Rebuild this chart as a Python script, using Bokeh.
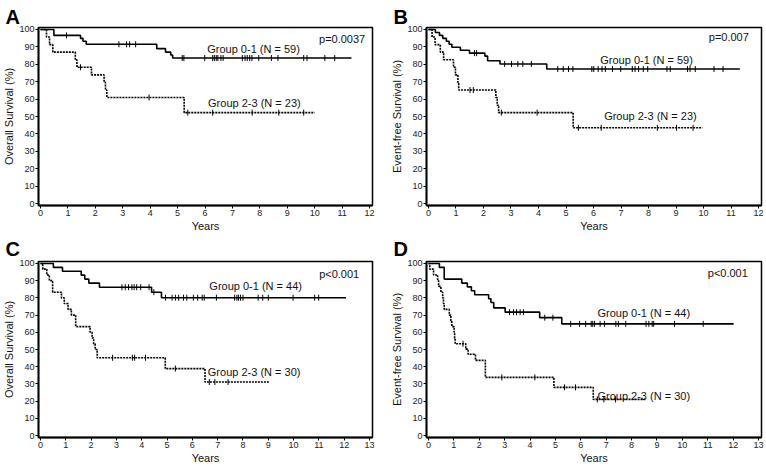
import numpy as np
from bokeh.plotting import figure
from bokeh.layouts import row, column
from bokeh.models import FixedTicker, Range1d, Label, Title
from bokeh.embed import file_html
from bokeh.resources import INLINE

FONT = "Liberation Sans"

# ---------------- data (years, survival %) ----------------
# Panel A - overall survival, cohort 1
A1_t = [0.49, 1.46, 1.55, 1.67, 4.24, 4.56, 4.75, 4.82]
A1_s = [96.6, 94.9, 93.2, 91.5, 89.0, 87.0, 85.3, 83.6]
A1_end = 11.34
A1_c = [0.95, 2.86, 3.14, 3.25, 3.47, 5.17, 5.23, 5.99, 6.28, 6.34, 6.41, 6.47, 6.58, 6.66,
        7.36, 7.46, 7.54, 7.63, 7.71, 7.96, 8.42, 8.66, 9.60, 9.72, 10.37, 10.73]
A2_t = [0.22, 0.33, 0.45, 1.27, 1.33, 1.86, 2.32, 2.37, 2.42, 5.24]
A2_s = [95.7, 91.3, 87.0, 82.6, 78.3, 73.9, 69.6, 65.2, 60.9, 52.2]
A2_end = 10.0
A2_c = [1.46, 3.96, 5.37, 6.28, 7.72, 8.69, 9.60]

# Panel B - event-free survival, cohort 1
B1_t = [0.25, 0.40, 0.52, 0.65, 0.75, 0.85, 1.16, 1.49, 2.05, 2.15, 2.60, 4.30]
B1_s = [98.3, 96.6, 94.9, 93.2, 91.5, 89.8, 88.1, 86.4, 84.7, 82.0, 80.2, 77.3]
B1_end = 11.32
B1_c = [1.67, 1.75, 2.77, 3.02, 3.25, 3.43, 3.74, 4.70, 4.90, 5.09, 5.25, 5.94, 6.01, 6.17,
        6.31, 6.43, 6.69, 6.99, 7.41, 7.51, 7.64, 7.81, 7.97, 8.67, 8.79, 9.42, 9.51, 9.70,
        10.38, 10.71]
B2_t = [0.13, 0.24, 0.43, 0.55, 0.91, 0.98, 1.07, 1.10, 2.45, 2.50, 2.55, 5.26]
B2_s = [95.7, 91.3, 87.0, 82.6, 78.3, 73.9, 69.6, 65.2, 60.9, 56.5, 52.2, 43.5]
B2_end = 9.96
B2_c = [1.51, 1.63, 2.65, 3.95, 5.45, 6.28, 8.32, 9.02, 9.62]

# Panel C - overall survival, cohort 2
C1_t = [0.51, 0.87, 1.61, 1.75, 1.91, 2.33, 4.39, 4.78]
C1_s = [97.7, 95.5, 93.2, 90.9, 88.6, 86.2, 83.3, 80.1]
C1_end = 12.07
C1_c = [3.22, 3.35, 3.48, 3.61, 3.70, 3.80, 3.96, 4.29, 4.48, 4.94, 5.20, 5.33, 5.46, 5.65,
        5.78, 6.04, 6.21, 6.39, 6.47, 6.95, 7.67, 7.76, 7.82, 7.90, 8.00, 8.60, 8.78, 9.00,
        9.98, 10.83, 10.99]
C2_t = [0.09, 0.25, 0.35, 0.48, 0.83, 0.94, 1.09, 1.22, 1.39, 1.96, 2.04, 2.10, 2.16, 2.24,
        4.93, 6.50]
C2_s = [96.7, 93.3, 90.0, 83.3, 80.0, 76.7, 73.3, 70.0, 63.3, 60.0, 56.7, 53.3, 50.0, 45.2,
        38.9, 31.1]
C2_end = 9.04
C2_c = [2.85, 3.63, 3.72, 4.15, 5.33, 6.67, 6.89, 7.41]

# Panel D - event-free survival, cohort 2
D1_t = [0.43, 0.62, 1.31, 1.53, 1.69, 1.82, 2.37, 2.46, 2.57, 3.02, 4.38, 5.25]
D1_s = [97.7, 90.9, 88.6, 86.4, 84.1, 81.8, 79.5, 77.3, 74.2, 71.7, 68.5, 64.9]
D1_end = 12.02
D1_c = [3.19, 3.35, 3.47, 3.61, 3.74, 4.58, 4.90, 5.60, 5.95, 6.19, 6.41, 6.47, 6.54, 6.76,
        6.93, 7.38, 7.48, 7.77, 8.57, 8.68, 8.81, 8.87, 9.69, 10.82]
D2_t = [0.05, 0.20, 0.36, 0.40, 0.49, 0.56, 0.59, 0.62, 0.82, 0.88, 0.92, 1.01, 1.03, 1.05,
        1.47, 1.56, 1.85, 2.24, 4.94, 6.49]
D2_s = [96.7, 93.3, 90.0, 86.7, 83.3, 80.0, 76.7, 73.3, 70.0, 66.7, 63.3, 60.0, 56.7, 53.3,
        50.2, 47.2, 43.7, 33.8, 28.0, 21.0]
D2_end = 8.54
D2_c = [1.36, 2.89, 4.19, 5.36, 5.79, 6.65, 6.91, 7.37]

# texts
LETTERS = ["A", "B", "C", "D"]
YLABELS = ["Overall Survival (%)", "Event-free Survival (%)",
           "Overall Survival (%)", "Event-free Survival (%)"]
G1_TEXT = ["Group 0-1 (N = 59)", "Group 0-1 (N = 59)", "Group 0-1 (N = 44)", "Group 0-1 (N = 44)"]
G2_TEXT = ["Group 2-3 (N = 23)", "Group 2-3 (N = 23)", "Group 2-3 (N = 30)", "Group 2-3 (N = 30)"]
P_TEXT = ["p=0.0037", "p=0.007", "p<0.001", "p<0.001"]
X_MAX = [12, 12, 13, 13]
Y_TICKS = list(range(0, 101, 10))


def step_xy(t, s, end):
    return [0.0] + list(t) + [end], [100.0] + list(s) + [s[-1]]


def censor_y(t, s, c):
    lv = np.array([100.0] + list(s))
    idx = np.searchsorted(np.array(t), np.array(c), side="right")
    return lv[idx]


def make_panel(i, g1, g2, pos, W, H, bl, br, bt, bb, letter_offset, letter_standoff):
    xmax = X_MAX[i]
    x0, x1 = -0.072 * xmax / 12, xmax + 0.108 * xmax / 12
    y0, y1 = -1.14, 101.14
    p = figure(width=W, height=H, x_range=Range1d(x0, x1), y_range=Range1d(y0, y1),
               output_backend="svg", toolbar_location=None,
               min_border_left=bl, min_border_right=br, min_border_top=bt, min_border_bottom=bb)
    p.title = Title(text=LETTERS[i], align="left", offset=letter_offset,
                    standoff=letter_standoff, text_font=FONT, text_font_size="20px",
                    text_font_style="bold", text_color="black")
    p.xgrid.visible = False
    p.ygrid.visible = False
    p.outline_line_color = "black"
    p.outline_line_width = 1.5
    p.background_fill_color = "white"
    p.border_fill_color = "white"
    p.xaxis.ticker = FixedTicker(ticks=list(range(0, xmax + 1)))
    p.yaxis.ticker = FixedTicker(ticks=Y_TICKS)
    p.xaxis.axis_label = "Years"
    p.yaxis.axis_label = YLABELS[i]
    for ax in (p.xaxis[0], p.yaxis[0]):
        ax.axis_line_width = 1.8
        ax.axis_line_color = "black"
        ax.major_tick_out = 3
        ax.major_tick_in = 0
        ax.major_tick_line_color = "black"
        ax.minor_tick_line_color = None
        ax.major_label_text_font = FONT
        ax.major_label_text_font_size = "9px"
        ax.major_label_text_color = "#222222"
        ax.major_label_standoff = 1
        ax.axis_label_text_font = FONT
        ax.axis_label_text_font_size = "11px"
        ax.axis_label_text_font_style = "normal"
        ax.axis_label_text_color = "#111111"
        ax.axis_label_standoff = 1

    # curves
    for (t, s, end, c), dash in ((g1, "solid"), (g2, "2 1")):
        xs, ys = step_xy(t, s, end)
        p.step(xs, ys, mode="after", line_color="black", line_width=1.6, line_dash=dash)
        cy = censor_y(t, s, c)
        p.scatter(c, cy, marker="dash", angle=np.pi / 2, size=6,
                  line_color="black", line_width=1)

    # texts
    (gx1, gy1), (gx2, gy2), (px, py) = pos
    for txt, x, y in ((G1_TEXT[i], gx1, gy1), (G2_TEXT[i], gx2, gy2), (P_TEXT[i], px, py)):
        p.add_layout(Label(x=x, y=y, text=txt, text_font=FONT, text_font_size="11px",
                           text_align="center", text_baseline="middle", text_color="#111111"))
    return p


pA = make_panel(0, (A1_t, A1_s, A1_end, A1_c), (A2_t, A2_s, A2_end, A2_c),
                [(7.77, 89.0), (7.8, 57.7), (11.0, 94.3)],
                383, 234, 35, 11, 27, 28, -33, 0)
pB = make_panel(1, (B1_t, B1_s, B1_end, B1_c), (B2_t, B2_s, B2_end, B2_c),
                [(7.93, 82.7), (8.07, 50.3), (10.92, 95.7)],
                381, 234, 43, 3, 27, 28, -33, 0)
pC = make_panel(2, (C1_t, C1_s, C1_end, C1_c), (C2_t, C2_s, C2_end, C2_c),
                [(8.5, 87.0), (8.44, 37.0), (11.8, 93.8)],
                383, 232, 35, 11, 26, 28, -33, 3)
pD = make_panel(3, (D1_t, D1_s, D1_end, D1_c), (D2_t, D2_s, D2_end, D2_c),
                [(8.48, 71.2), (8.48, 22.9), (11.79, 94.5)],
                381, 232, 43, 3, 26, 28, -33, 3)

layout = column(row(pA, pB), row(pC, pD))
open("out.html", "w").write(file_html(layout, INLINE))
